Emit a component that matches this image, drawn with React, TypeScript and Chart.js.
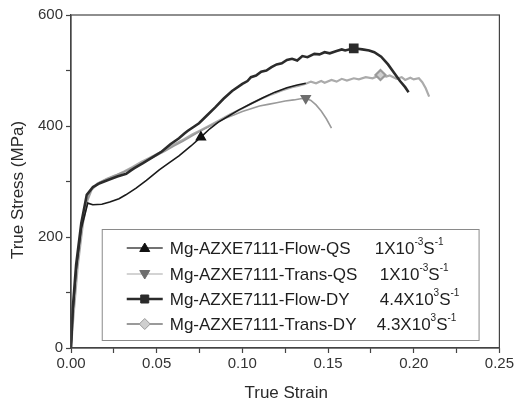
import React, { useEffect, useRef } from "react";
import { Chart, registerables } from "chart.js";

Chart.register(...registerables);

// ---------- data ----------
const seriesNames = [
  "Mg-AZXE7111-Flow-QS",
  "Mg-AZXE7111-Trans-QS",
  "Mg-AZXE7111-Flow-DY",
  "Mg-AZXE7111-Trans-DY",
];
const rateMantissa = ["1X10", "1X10", "4.4X10", "4.3X10"];
const rateExponent = ["-3", "-3", "3", "3"];

const flowQSStrain = [0, 0.001, 0.003, 0.006, 0.0098, 0.0127, 0.018, 0.0226, 0.028, 0.032, 0.038, 0.044, 0.0515, 0.057, 0.063, 0.07, 0.0758, 0.081, 0.086, 0.092, 0.098, 0.105, 0.112, 0.119, 0.126, 0.132, 0.137];
const flowQSStress = [0, 60, 140, 215, 261, 258, 259, 263, 269, 276, 288, 302, 321, 333, 346, 364, 380, 395, 407, 418, 429, 440, 451, 461, 469, 474, 477];

const transQSStrain = [0, 0.001, 0.003, 0.006, 0.009, 0.0115, 0.015, 0.02, 0.025, 0.03, 0.035, 0.04, 0.045, 0.05, 0.055, 0.06, 0.065, 0.07, 0.075, 0.08, 0.085, 0.09, 0.095, 0.1, 0.105, 0.11, 0.115, 0.12, 0.125, 0.13, 0.134, 0.137, 0.14, 0.143, 0.146, 0.149, 0.152];
const transQSStress = [0, 50, 130, 210, 262, 283, 296, 303, 310, 316, 323, 331, 339, 347, 355, 364, 372, 381, 390, 398, 406, 414, 420, 426, 431, 436, 439, 442, 445, 447, 449, 450, 446, 438, 427, 413, 396];

const flowDYStrain = [0, 0.001, 0.003, 0.006, 0.0092, 0.0128, 0.0168, 0.022, 0.027, 0.0322, 0.035, 0.037, 0.042, 0.0477, 0.053, 0.058, 0.063, 0.066, 0.068, 0.0747, 0.079, 0.0843, 0.089, 0.094, 0.1, 0.103, 0.105, 0.108, 0.111, 0.114, 0.117, 0.12, 0.123, 0.126, 0.129, 0.132, 0.135, 0.138, 0.142, 0.145, 0.148, 0.151, 0.155, 0.158, 0.16, 0.165, 0.17, 0.174, 0.177, 0.181, 0.185, 0.1885, 0.192, 0.195, 0.197];
const flowDYStress = [0, 70, 150, 225, 276, 290, 297, 303, 309, 314, 320, 324, 333, 344, 354, 367, 378, 386, 391, 405, 418, 434, 449, 463, 476, 481, 488, 491, 498, 500, 506, 511, 513, 519, 521, 518, 526, 524, 530, 529, 533, 531, 535, 538, 536, 540, 538, 536, 533, 525, 511, 496, 481, 470, 461];

const transDYStrain = [0, 0.0015, 0.004, 0.007, 0.0095, 0.012, 0.016, 0.021, 0.026, 0.031, 0.036, 0.041, 0.046, 0.051, 0.056, 0.061, 0.066, 0.071, 0.076, 0.081, 0.087, 0.093, 0.099, 0.105, 0.111, 0.117, 0.123, 0.129, 0.1325, 0.137, 0.14, 0.143, 0.146, 0.148, 0.152, 0.155, 0.158, 0.161, 0.165, 0.168, 0.172, 0.176, 0.1806, 0.184, 0.186, 0.19, 0.193, 0.195, 0.198, 0.2, 0.203, 0.205, 0.207, 0.209];
const transDYStress = [0, 60, 150, 225, 265, 285, 297, 305, 311, 318, 326, 335, 343, 351, 359, 368, 376, 385, 393, 401, 411, 421, 430, 440, 449, 457, 464, 470, 472, 476, 480, 477, 481, 478, 483, 480, 485, 482, 486, 484, 488, 486, 492, 489, 491, 485, 488, 483, 487, 484, 486, 479, 468, 453];

const markerStrain = [0.0758, 0.137, 0.165, 0.1806];

const xTicks = [0, 0.05, 0.1, 0.15, 0.2, 0.25];
const yTicks = [0, 200, 400, 600];

// ---------- styles ----------
const lineColors = ["#1a1a1a", "#9a9a9a", "#2b2b2b", "#ababab"];
const lineWidths = [1.6, 1.6, 2.6, 2.2];
const markerStyles = ["triangle", "triangle", "rect", "rectRot"];
const markerRotation = [0, 180, 0, 0];
const markerFill = ["#111", "#6e6e6e", "#2b2b2b", "#cfcfcf"];
const markerBorder = ["#111", "#6e6e6e", "#2b2b2b", "#9a9a9a"];
const legendLineColors = ["#444", "#c4c4c4", "#2b2b2b", "#9a9a9a"];
const FONT = "'Liberation Sans', Arial, sans-serif";

function toPoints(xs: number[], ys: number[]) {
  return xs.map((x, i) => ({ x, y: ys[i] }));
}

const allStrain = [flowQSStrain, transQSStrain, flowDYStrain, transDYStrain];
const allStress = [flowQSStress, transQSStress, flowDYStress, transDYStress];

const framePlugin = {
  id: "frame",
  afterDatasetsDraw(chart: any) {
    const { ctx, chartArea: a } = chart;
    ctx.save();
    ctx.strokeStyle = "#444";
    ctx.lineWidth = 1.2;
    ctx.strokeRect(a.left, a.top, a.right - a.left, a.bottom - a.top);

    // legend box
    const w = a.right - a.left;
    const h = a.bottom - a.top;
    const bx0 = a.left + (31 / 432) * w;
    const bx1 = a.left + (411 / 432) * w;
    const by0 = a.top + (214 / 333) * h;
    const by1 = a.top + (325 / 333) * h;
    ctx.fillStyle = "#fff";
    ctx.fillRect(bx0, by0, bx1 - bx0, by1 - by0);
    ctx.strokeStyle = "#8a8a8a";
    ctx.lineWidth = 1;
    ctx.strokeRect(bx0 + 0.5, by0 + 0.5, bx1 - bx0, by1 - by0);

    const rowY = [248, 274, 299, 324].map((v) => a.top + ((v - 15) / 333) * h);
    const lx0 = bx0 + 25;
    const lx1 = bx0 + 61;
    const textX = bx0 + 68;
    const rateX = [bx0 + 273, bx0 + 278, bx0 + 278, bx0 + 275];
    for (let i = 0; i < 4; i++) {
      const y = rowY[i];
      ctx.strokeStyle = legendLineColors[i];
      ctx.lineWidth = lineWidths[i];
      ctx.beginPath();
      ctx.moveTo(lx0, y);
      ctx.lineTo(lx1, y);
      ctx.stroke();
      // marker
      const mx = (lx0 + lx1) / 2;
      ctx.fillStyle = markerFill[i];
      ctx.strokeStyle = markerBorder[i];
      ctx.lineWidth = 1;
      ctx.beginPath();
      const r = 5;
      if (i === 0) {
        ctx.moveTo(mx, y - r);
        ctx.lineTo(mx + r, y + r * 0.7);
        ctx.lineTo(mx - r, y + r * 0.7);
      } else if (i === 1) {
        ctx.moveTo(mx, y + r);
        ctx.lineTo(mx + r, y - r * 0.7);
        ctx.lineTo(mx - r, y - r * 0.7);
      } else if (i === 2) {
        ctx.rect(mx - 4, y - 4, 8, 8);
      } else {
        ctx.moveTo(mx, y - 5.5);
        ctx.lineTo(mx + 5.5, y);
        ctx.lineTo(mx, y + 5.5);
        ctx.lineTo(mx - 5.5, y);
      }
      ctx.closePath();
      ctx.fill();
      ctx.stroke();

      ctx.fillStyle = "#1e1e1e";
      ctx.textBaseline = "middle";
      ctx.textAlign = "left";
      ctx.font = `17px ${FONT}`;
      ctx.fillText(seriesNames[i], textX, y + 1);
      // rate text with superscripts
      let x = rateX[i];
      ctx.fillText(rateMantissa[i], x, y + 1);
      x += ctx.measureText(rateMantissa[i]).width;
      ctx.font = `10px ${FONT}`;
      ctx.fillText(rateExponent[i], x, y - 6);
      x += ctx.measureText(rateExponent[i]).width;
      ctx.font = `17px ${FONT}`;
      ctx.fillText("S", x, y + 1);
      x += ctx.measureText("S").width;
      ctx.font = `10px ${FONT}`;
      ctx.fillText("-1", x, y - 6);
    }

    // axis titles
    ctx.fillStyle = "#2a2a2a";
    ctx.font = `17px ${FONT}`;
    ctx.textAlign = "center";
    ctx.textBaseline = "middle";
    ctx.fillText("True Strain", (a.left + a.right) / 2 + 1, 393);
    ctx.save();
    ctx.translate(18, a.top + (175 / 333) * h);
    ctx.rotate(-Math.PI / 2);
    ctx.fillText("True Stress (MPa)", 0, 0);
    ctx.restore();
    ctx.restore();
  },
};

export default function App() {
  const ref = useRef<HTMLCanvasElement>(null);
  useEffect(() => {
    document.body.style.margin = "0";
    const canvas = ref.current!;
    const datasets = allStrain.map((xs, i) => ({
      label: seriesNames[i],
      data: toPoints(xs, allStress[i]),
      borderColor: lineColors[i],
      borderWidth: lineWidths[i],
      backgroundColor: markerFill[i],
      pointBorderColor: markerBorder[i],
      pointStyle: markerStyles[i],
      rotation: markerRotation[i],
      pointRadius: (ctx: any) =>
        ctx.raw && Math.abs(ctx.raw.x - markerStrain[i]) < 1e-9 ? 5 : 0,
      pointHoverRadius: 0,
      tension: 0,
      fill: false,
      order: [1, 2, 0, 3][i],
    }));
    const chart = new Chart(canvas, {
      type: "line",
      data: { datasets },
      options: {
        animation: false,
        responsive: false,
        maintainAspectRatio: false,
        layout: { padding: { top: 15, right: 13, left: 0, bottom: 0 } },
        plugins: { legend: { display: false }, tooltip: { enabled: false } },
        scales: {
          x: {
            type: "linear",
            min: 0,
            max: 0.25,
            afterFit: (s: any) => {
              s.height = 55;
            },
            afterBuildTicks: (s: any) => {
              const t: any[] = [];
              for (let k = 0; k <= 10; k++) t.push({ value: k * 0.025 });
              s.ticks = t;
            },
            ticks: {
              color: "#333",
              font: { family: FONT, size: 15 },
              padding: 2,
              maxRotation: 0,
              autoSkip: false,
              callback: (v: any) => {
                const m = xTicks.find((t) => Math.abs(t - v) < 1e-9);
                return m === undefined ? "" : m.toFixed(2);
              },
            },
            grid: {
              drawOnChartArea: false,
              tickLength: 5,
              tickColor: "#444",
              tickWidth: 1.2,
            },
            border: { color: "#444", width: 1.2 },
          },
          y: {
            type: "linear",
            min: 0,
            max: 600,
            afterFit: (s: any) => {
              s.width = 71;
            },
            afterBuildTicks: (s: any) => {
              const t: any[] = [];
              for (let k = 0; k <= 6; k++) t.push({ value: k * 100 });
              s.ticks = t;
            },
            ticks: {
              color: "#333",
              font: { family: FONT, size: 15 },
              padding: 3,
              autoSkip: false,
              callback: (v: any) => (yTicks.includes(v) ? String(v) : ""),
            },
            grid: {
              drawOnChartArea: false,
              tickLength: 5,
              tickColor: "#444",
              tickWidth: 1.2,
            },
            border: { color: "#444", width: 1.2 },
          },
        },
      },
      plugins: [framePlugin],
    } as any);
    return () => chart.destroy();
  }, []);
  return (
    <div style={{ position: "fixed", left: 0, top: 0, width: 516, height: 403, background: "#fff" }}>
      <canvas ref={ref} width={516} height={403} style={{ width: 516, height: 403 }} />
    </div>
  );
}
